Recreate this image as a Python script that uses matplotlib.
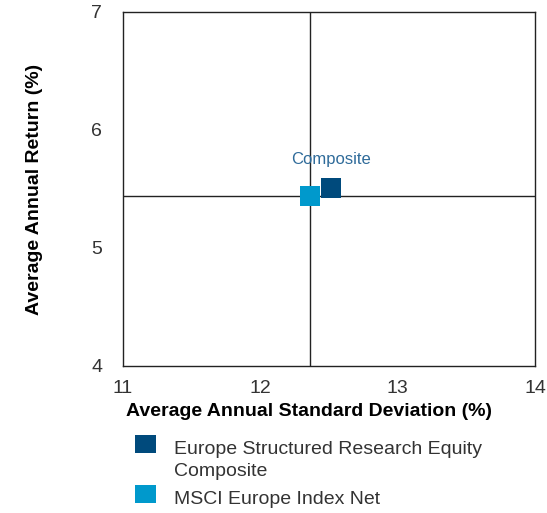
import matplotlib.pyplot as plt
from matplotlib.patches import Rectangle

# data
names = ['Europe Structured Research Equity\nComposite', 'MSCI Europe Index Net']
risk = [12.515, 12.36]
ret = [5.51, 5.443]
colors = ['#004a7c', '#0099cc']
x_ticks = [11, 12, 13, 14]
y_ticks = [4, 5, 6, 7]

plt.rcParams['font.family'] = ['Liberation Sans', 'DejaVu Sans']

W, H = 547, 513
fig = plt.figure(figsize=(W / 100, H / 100), dpi=100)
ax = fig.add_axes([123 / W, 1 - 366 / H, 412 / W, 354 / H])

# crosshair through benchmark
ax.axvline(risk[1], color='#222222', lw=1, zorder=1)
ax.axhline(ret[1], color='#222222', lw=1, zorder=1)

for i in range(len(names)):
    ax.scatter(risk[i], ret[i], marker='s', s=207, color=colors[i],
               edgecolors='none', zorder=3)

ax.annotate('Composite', (risk[0], ret[0]), xytext=(0, 20.5),
            textcoords='offset points', color='#2f6b9a', fontsize=12,
            ha='center', va='center')

ax.set_xlim(11, 14)
ax.set_ylim(4, 7)
ax.set_xticks(x_ticks)
ax.set_yticks(y_ticks)
ax.tick_params(length=0, labelsize=14, labelcolor='#333333')
ax.tick_params(axis='x', pad=10)
ax.tick_params(axis='y', pad=15)
for s in ax.spines.values():
    s.set_color('#222222')
    s.set_linewidth(1)

ax.set_xlabel('Average Annual Standard Deviation (%)', fontsize=14,
              fontweight='bold', va='center')
ax.xaxis.set_label_coords((309 - 123) / 412, (366 - 411) / 354)
ax.set_ylabel('Average Annual Return (%)', fontsize=14, fontweight='bold',
              va='center')
ax.yaxis.set_label_coords((35 - 123) / 412, 0.5)

# legend drawn by hand: handle sits beside the first line of each label
line_y = 450
for i, name in enumerate(names):
    lines = name.split('\n')
    fig.add_artist(Rectangle((135 / W, 1 - (line_y + 3) / H), 21 / W, 18 / H,
                             transform=fig.transFigure, color=colors[i], lw=0))
    for ln in lines:
        fig.text(174 / W, 1 - line_y / H, ln, fontsize=14, color='#333333',
                 va='center', ha='left')
        line_y += 22
    line_y += 6

fig.savefig('out.png', dpi=100)
